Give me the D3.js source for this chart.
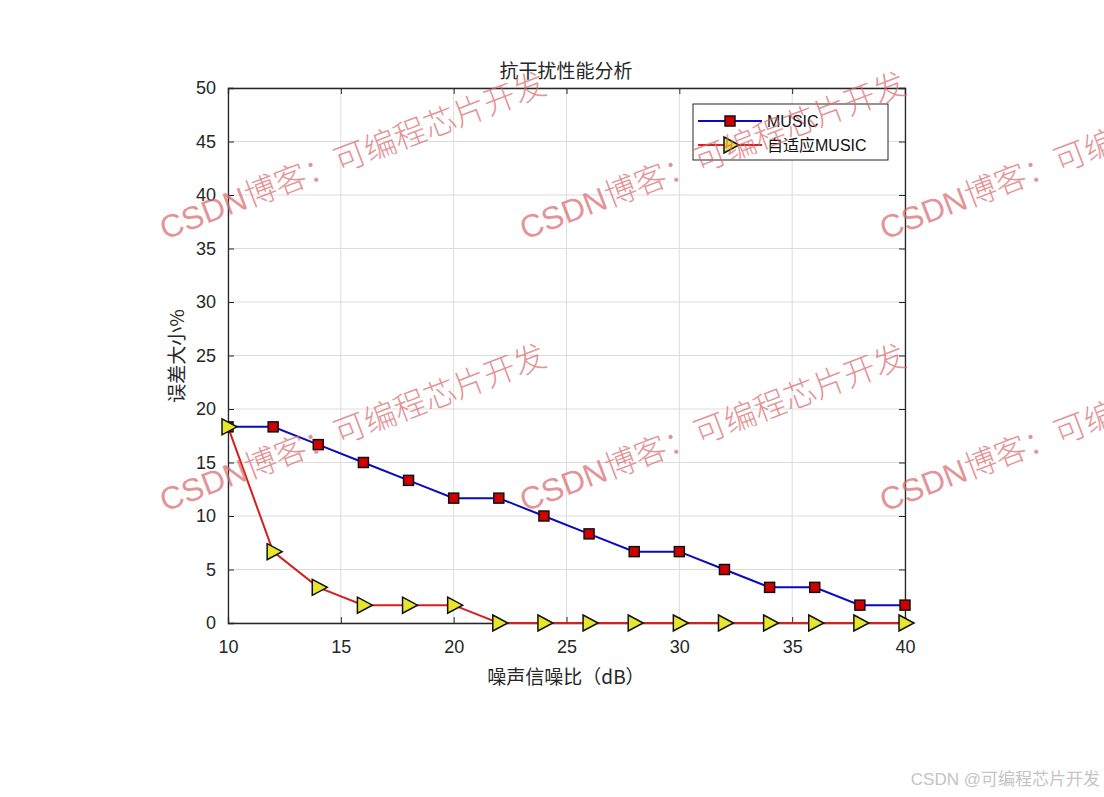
<!DOCTYPE html>
<html><head><meta charset="utf-8">
<script src="https://cdn.jsdelivr.net/npm/d3@7"></script>
<style>body{margin:0;background:#fff;}svg{display:block;}</style>
</head><body><svg id="c" width="1104" height="797"></svg>
<script>
const snr = [10,12,14,16,18,20,22,24,26,28,30,32,34,36,38,40];
const musicErr = [18.33,18.33,16.67,15,13.33,11.67,11.67,10,8.33,6.67,6.67,5,3.33,3.33,1.67,1.67];
const adaptiveErr = [18.33,6.67,3.33,1.67,1.67,1.67,0,0,0,0,0,0,0,0,0,0];
const xTicks = [10,15,20,25,30,35,40];
const yTicks = [0,5,10,15,20,25,30,35,40,45,50];
const seriesNames = ["MUSIC","自适应MUSIC"];
const titleText = "抗干扰性能分析";
const xLabel = "噪声信噪比（dB）";
const yLabel = "误差大小%";
const watermark = "CSDN博客：可编程芯片开发";
const footer = "CSDN @可编程芯片开发";

const svg = d3.select("#c");
const L=228,R=905,T=88,B=623;
const x = d3.scaleLinear().domain([10,40]).range([L,R]);
const y = d3.scaleLinear().domain([0,50]).range([B,T]);
const font = "'Liberation Sans', Arial, sans-serif";
const cjk = "'Noto Sans CJK SC', sans-serif";

// grid
const g = svg.append("g");
g.selectAll(".gx").data(xTicks).join("line").attr("x1",d=>x(d)).attr("x2",d=>x(d)).attr("y1",T).attr("y2",B).attr("stroke","#dcdcdc").attr("stroke-width",1);
g.selectAll(".gy").data(yTicks).join("line").attr("x1",L).attr("x2",R).attr("y1",d=>y(d)).attr("y2",d=>y(d)).attr("stroke","#dcdcdc").attr("stroke-width",1);

// axes
const ax = svg.append("g").attr("transform",`translate(0,${B})`).call(d3.axisBottom(x).tickValues(xTicks).tickSize(-6).tickPadding(17));
const ay = svg.append("g").attr("transform",`translate(${L},0)`).call(d3.axisLeft(y).tickValues(yTicks).tickSize(-6).tickPadding(12));
const axT = svg.append("g").attr("transform",`translate(0,${T})`).call(d3.axisTop(x).tickValues(xTicks).tickSize(-6).tickFormat(""));
const ayR = svg.append("g").attr("transform",`translate(${R},0)`).call(d3.axisRight(y).tickValues(yTicks).tickSize(-6).tickFormat(""));
[ax,ay,axT,ayR].forEach(a=>{
  a.select(".domain").attr("stroke","#262626").attr("stroke-width",1.3);
  a.selectAll(".tick line").attr("stroke","#262626");
  a.selectAll("text").attr("fill","#262626").style("font-family",font).style("font-size","18px");
});

// lines
const line = d3.line().x((d,i)=>x(snr[i])).y(d=>y(d));
svg.append("path").datum(musicErr).attr("d",line).attr("fill","none").attr("stroke","#0a0ac0").attr("stroke-width",2);
svg.append("path").datum(adaptiveErr).attr("d",line).attr("fill","none").attr("stroke","#d42020").attr("stroke-width",2);

const tri = "M-6,-8 L9,0 L-6,8 Z";
svg.selectAll(".sq").data(musicErr).join("rect")
  .attr("x",(d,i)=>x(snr[i])-5).attr("y",d=>y(d)-5).attr("width",10).attr("height",10)
  .attr("fill","#d00000").attr("stroke","#111").attr("stroke-width",1.5);
svg.selectAll(".tr").data(adaptiveErr).join("path")
  .attr("transform",(d,i)=>`translate(${x(snr[i])},${y(d)})`).attr("d",tri)
  .attr("fill","#e6e62a").attr("stroke","#111").attr("stroke-width",1.5);

// legend
const lg = svg.append("g");
lg.append("rect").attr("x",693).attr("y",104).attr("width",195).attr("height",56).attr("fill","#fff").attr("stroke","#262626").attr("stroke-width",1);
lg.append("line").attr("x1",698).attr("x2",762).attr("y1",121).attr("y2",121).attr("stroke","#0a0ac0").attr("stroke-width",2);
lg.append("rect").attr("x",725).attr("y",116).attr("width",10).attr("height",10).attr("fill","#d00000").attr("stroke","#111").attr("stroke-width",1.5);
lg.append("line").attr("x1",698).attr("x2",762).attr("y1",145).attr("y2",145).attr("stroke","#d42020").attr("stroke-width",2);
lg.append("path").attr("transform","translate(730,145)").attr("d",tri).attr("fill","#e6e62a").attr("stroke","#111").attr("stroke-width",1.5);
lg.selectAll(".lt").data(seriesNames).join("text").attr("x",767).attr("y",(d,i)=>127+i*24)
  .text(d=>d).attr("fill","#111").style("font-family",`${font}, ${cjk}`).style("font-size","16px");

// title and labels
svg.append("text").attr("x",566).attr("y",78).attr("text-anchor","middle").text(titleText)
  .attr("fill","#262626").style("font-family",cjk).style("font-size","19px");
svg.append("text").attr("x",566).attr("y",684).attr("text-anchor","middle").text(xLabel)
  .attr("fill","#262626").style("font-family",cjk).style("font-size","19px");
svg.append("text").attr("transform","translate(184,356) rotate(-90)").attr("text-anchor","middle").text(yLabel)
  .attr("fill","#262626").style("font-family",cjk).style("font-size","19px");

// watermarks
const wm = svg.append("g");
const starts = [];
[0,1].forEach(r=>[0,1,2].forEach(c=>starts.push([165+c*360,240+r*272])));
wm.selectAll("text").data(starts).join("text")
  .attr("transform",d=>`translate(${d[0]},${d[1]}) rotate(-21)`)
  .text(watermark).attr("fill","rgba(218,105,110,0.72)")
  .style("font-family",`'Liberation Sans', Arial, ${cjk}`).style("font-size","32px").style("font-weight","300");

svg.append("text").attr("x",1100).attr("y",785).attr("text-anchor","end").text(footer)
  .attr("fill","#c4c4c4").style("font-family",`'Liberation Sans', Arial, ${cjk}`).style("font-size","17px");
</script></body></html>
